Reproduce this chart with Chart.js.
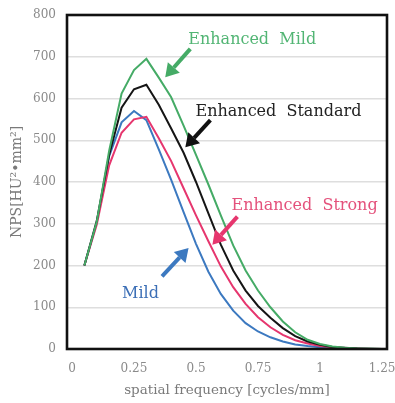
<!DOCTYPE html>
<html>
<head>
<meta charset="utf-8">
<script src="https://cdn.jsdelivr.net/npm/chart.js@4.4.0/dist/chart.umd.min.js"></script>
<style>
  html, body { margin: 0; padding: 0; background: #fff; }
  #wrap { width: 395px; height: 403px; position: relative; }
</style>
</head>
<body>
<div id="wrap"><canvas id="myChart"></canvas></div>
<script>
'use strict';

// spatial frequency [cycles/mm]
var freq = [0.05, 0.1, 0.15, 0.2, 0.25, 0.3, 0.35, 0.4, 0.45, 0.5, 0.55, 0.6, 0.65,
            0.7, 0.75, 0.8, 0.85, 0.9, 0.95, 1.0, 1.05, 1.1, 1.15, 1.2, 1.25];

var enhancedMild     = [200, 305, 475, 612, 668, 695, 650, 603, 535, 465, 394, 320, 248,
                        188, 140, 100, 66, 40, 22, 12, 6, 3, 1.5, 0.5, 0];
var enhancedStandard = [200, 307, 465, 578, 622, 633, 585, 528, 470, 400, 325, 250, 188,
                        140, 103, 75, 50, 31, 18, 10, 5, 3, 1, 0.5, 0];
var enhancedStrong   = [200, 298, 440, 518, 550, 556, 505, 450, 385, 320, 258, 198, 148,
                        108, 76, 52, 34, 21, 13, 7, 4, 2, 1, 0.3, 0];
var mild             = [200, 303, 462, 543, 570, 548, 478, 405, 328, 252, 185, 132, 92,
                        62, 42, 28, 18, 11, 7, 4, 2, 1, 0.5, 0, 0];

var xTicks = [0, 0.25, 0.5, 0.75, 1, 1.25];
var xTickLabels = ['0', '0.25', '0.5', '0.75', '1', '1.25'];

var colGreen = '#45ab66';
var colBlack = '#151515';
var colPink = '#e6366e';
var colBlue = '#3c79c0';

// labels + arrows, in data units: [text, color, textX, textBaseY, tailX, tailY, tipX, tipY]
var notes = [
  ['Enhanced  Mild', '#52b574', 0.469, 731, 0.477, 719, 0.376, 651],
  ['Enhanced  Standard', '#222222', 0.498, 558, 0.558, 548, 0.457, 483],
  ['Enhanced  Strong', '#e4527c', 0.643, 332, 0.667, 317, 0.566, 250],
  ['Mild', '#3c6fb6', 0.202, 123, 0.363, 174, 0.47, 242]
];
var arrowColors = [colGreen, '#111111', colPink, colBlue];

function pts(ys) {
  return freq.map(function (f, i) { return { x: f, y: ys[i] }; });
}

function ds(label, ys, color) {
  return {
    label: label,
    data: pts(ys),
    borderColor: color,
    backgroundColor: color,
    borderWidth: 2,
    pointRadius: 0,
    tension: 0,
    fill: false
  };
}

var framePlugin = {
  id: 'frameAndNotes',
  afterDatasetsDraw: function (chart) {
    var ctx = chart.ctx;
    var a = chart.chartArea;
    var xs = chart.scales.x;
    var ys = chart.scales.y;
    ctx.save();
    ctx.strokeStyle = '#111';
    ctx.lineWidth = 2.6;
    ctx.strokeRect(a.left, a.top, a.right - a.left, a.bottom - a.top);

    notes.forEach(function (n, i) {
      ctx.font = '16px "DejaVu Serif"';
      ctx.fillStyle = n[1];
      ctx.textBaseline = 'alphabetic';
      ctx.textAlign = 'left';
      ctx.fillText(n[0], xs.getPixelForValue(n[2]), ys.getPixelForValue(n[3]));

      var x1 = xs.getPixelForValue(n[4]), y1 = ys.getPixelForValue(n[5]);
      var x2 = xs.getPixelForValue(n[6]), y2 = ys.getPixelForValue(n[7]);
      var ang = Math.atan2(y2 - y1, x2 - x1);
      var head = 13, hw = 8;
      var bx = x2 - Math.cos(ang) * head, by = y2 - Math.sin(ang) * head;
      ctx.strokeStyle = arrowColors[i];
      ctx.fillStyle = arrowColors[i];
      ctx.lineWidth = 4;
      ctx.lineCap = 'butt';
      ctx.beginPath();
      ctx.moveTo(x1, y1);
      ctx.lineTo(bx, by);
      ctx.stroke();
      ctx.beginPath();
      ctx.moveTo(x2, y2);
      ctx.lineTo(bx + Math.sin(ang) * hw, by - Math.cos(ang) * hw);
      ctx.lineTo(bx - Math.sin(ang) * hw, by + Math.cos(ang) * hw);
      ctx.closePath();
      ctx.fill();
    });
    ctx.restore();
  }
};

var ctx = document.getElementById('myChart');

new Chart(ctx, {
  type: 'line',
  data: {
    datasets: [
      ds('Enhanced Mild', enhancedMild, colGreen),
      ds('Enhanced Standard', enhancedStandard, colBlack),
      ds('Enhanced Strong', enhancedStrong, colPink),
      ds('Mild', mild, colBlue)
    ]
  },
  options: {
    responsive: true,
    maintainAspectRatio: false,
    animation: false,
    layout: { autoPadding: false, padding: { left: 0, right: 8, top: 15, bottom: 0 } },
    plugins: { legend: { display: false }, tooltip: { enabled: false } },
    scales: {
      x: {
        type: 'linear',
        min: -0.02,
        max: 1.27,
        afterBuildTicks: function (scale) {
          scale.ticks = xTicks.map(function (v) { return { value: v }; });
        },
        afterFit: function (scale) {
          scale.height = 54;
          scale.paddingLeft = 0;
          scale.paddingRight = 0;
        },
        grid: { display: false, drawTicks: false },
        border: { display: false },
        ticks: {
          padding: 13,
          color: '#8a8a8a',
          font: { family: 'DejaVu Serif', size: 12 },
          maxRotation: 0,
          autoSkip: false,
          callback: function (v) {
            var i = xTicks.indexOf(v);
            return i >= 0 ? xTickLabels[i] : '';
          }
        },
        title: {
          display: true,
          text: 'spatial frequency [cycles/mm]',
          color: '#7a7a7a',
          font: { family: 'DejaVu Serif', size: 13.5 },
          padding: { top: 0, bottom: 4 }
        }
      },
      y: {
        min: 0,
        max: 800,
        afterFit: function (scale) {
          scale.width = 67;
          scale.paddingTop = 0;
          scale.paddingBottom = 0;
        },
        grid: {
          color: function (c) {
            return (c.tick.value === 0 || c.tick.value === 800) ? 'rgba(0,0,0,0)' : '#dedede';
          },
          lineWidth: 1.5,
          drawTicks: false
        },
        border: { display: false },
        ticks: {
          stepSize: 100,
          padding: 11,
          color: '#8a8a8a',
          font: { family: 'DejaVu Serif', size: 12 }
        },
        title: {
          display: true,
          text: 'NPS[HU²•mm²]',
          color: '#7a7a7a',
          font: { family: 'DejaVu Serif', size: 14 },
          padding: { top: 9, bottom: 0 }
        }
      }
    }
  },
  plugins: [framePlugin]
});
</script>
</body>
</html>
